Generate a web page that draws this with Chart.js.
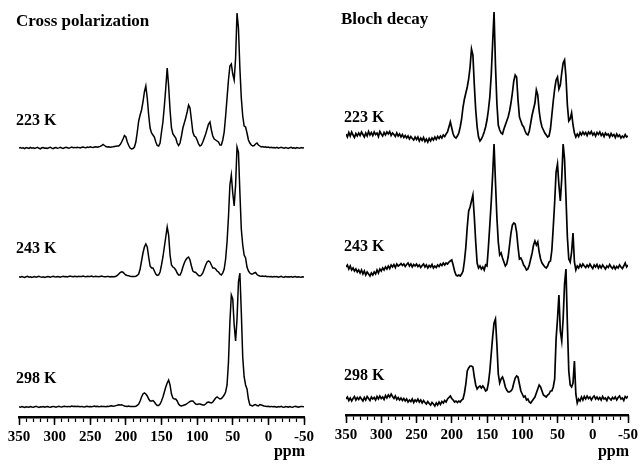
<!DOCTYPE html>
<html>
<head>
<meta charset="utf-8">
<script src="https://cdn.jsdelivr.net/npm/chart.js@4.4.1/dist/chart.umd.min.js"></script>
<style>
  body { margin: 0; background: #fff; }
  #wrap { position: relative; width: 644px; height: 468px; }
  .panel { position: absolute; top: 0; width: 322px; height: 468px; }
</style>
</head>
<body>
<div id="wrap">
  <div class="panel" style="left:0"><canvas id="cp" width="322" height="468"></canvas></div>
  <div class="panel" style="left:322px"><canvas id="bd" width="322" height="468"></canvas></div>
</div>
<script>
// chemical shift axis (ppm), shared by all six traces
const ppm = [
  350, 348, 346, 344, 342, 340, 338, 336, 334, 332,
  330, 328, 326, 324, 322, 320, 318, 316, 314, 312,
  310, 308, 306, 304, 302, 300, 298, 296, 294, 292,
  290, 288, 286, 284, 282, 280, 278, 276, 274, 272,
  270, 268, 266, 264, 262, 260, 258, 256, 254, 252,
  250, 248, 246, 244, 242, 240, 238, 236, 234, 232,
  230, 228, 226, 224, 222, 220, 218, 216, 214, 212,
  210, 208, 206, 204, 202, 200, 198, 196, 194, 192,
  190, 188, 186, 184, 182, 180, 178, 176, 174, 172,
  170, 168, 166, 164, 162, 160, 158, 156, 154, 152,
  150, 148, 146, 144, 142, 140, 138, 136, 134, 132,
  130, 128, 126, 124, 122, 120, 118, 116, 114, 112,
  110, 108, 106, 104, 102, 100, 98, 96, 94, 92,
  90, 88, 86, 84, 82, 80, 78, 76, 74, 72,
  70, 68, 66, 64, 62, 60, 58, 56, 54, 52,
  50, 48, 46, 44, 42, 40, 38, 36, 34, 32,
  30, 28, 26, 24, 22, 20, 18, 16, 14, 12,
  10, 8, 6, 4, 2, 0, -2, -4, -6, -8,
  -10, -12, -14, -16, -18, -20, -22, -24, -26, -28,
  -30, -32, -34, -36, -38, -40, -42, -44, -46, -48,
  -50
];

const temps = ['223 K', '243 K', '298 K'];
const xTicks = { min: -50, max: 350, major: 50, minor: 10 };

// Cross polarization intensities
const cp223 = [
  0, 0.5, -0.3, 0.2, -0.6, 0.4, 0, -0.4, 0.6, -0.2,
  0.3, -0.5, 0.1, 0.6, -0.3, -0.8, 0.2, 0.5, -0.2, 0,
  -0.5, 0.4, 0.8, -0.1, -0.6, 0.2, 0.5, -0.3, 0.1, 0.6,
  0, -0.4, 0.3, 0.7, 0.2, -0.3, 0.4, 0.9, 0.3, 0.6,
  0.2, 0.8, 0.4, 0.1, 0.7, 1.0, 0.5, 0.3, 0.9, 0.6,
  1.1, 0.7, 0.5, 1.0, 1.3, 0.8, 1.2, 1.6, 2.4, 3.5,
  2.5, 1.5, 1.0, 1.3, 0.8, 1.1, 1.3, 1.6, 1.8, 2.0,
  2, 3.5, 6, 9, 12.5, 11, 6, 2.5, 0, -1,
  -0.5, 1, 6, 16, 27, 33, 38, 46, 56, 62,
  50, 33, 20, 15, 13, 11, 6, 2.5, 2, 5,
  16, 26, 42, 60, 80, 62, 38, 20, 14, 12,
  10, 5, 2.5, 5, 12, 20, 25, 30, 36, 43,
  40, 28, 16, 12, 11, 8, 4, 2, 3, 6,
  10, 14, 19, 24, 26, 18, 12, 9, 8, 7,
  6, 3, 3, 8, 16, 32, 50, 68, 82, 84,
  74, 68, 90, 135, 120, 80, 50, 32, 22, 21,
  15, 8, 5, 3, 2, 2.5, 4, 5, 3, 2,
  1, 1.5, 0.8, 1.2, 0.5, 0.9, 0.3, 0.7, 0.2, 0.5,
  0.1, 0.6, -0.2, 0.4, 0.8, 0.2, -0.3, 0.5, 0.1, -0.4,
  0.3, 0.7, -0.1, 0.2, -0.5, 0.4, 0.1, -0.3, 0.5, 0,
  0.2
];
const cp243 = [
  0.3, -0.2, 0.5, 0, -0.4, 0.2, 0.6, -0.1, 0.3, -0.5,
  0.1, 0.4, -0.3, 0.2, 0.7, 0.1, -0.2, 0.3, -0.4, 0,
  0.5, 0.2, -0.3, 0.4, 0.8, 0.3, 0, 0.5, 0.2, -0.2,
  0.4, 0.7, 0.2, 0.5, 0.1, 0.6, 0.9, 0.4, 0.2, 0.7,
  0.5, 0.3, 0.8, 0.4, 0.6, 1.0, 0.5, 0.2, 0.7, 0.4,
  0.6, 0.9, 0.3, 0.5, 0.8, 0.4, 0.2, 0.6, 0.9, 0.5,
  0.3, 0.2, 0.6, 0.4, 0.1, 0.5, 0.3, 0.2, 0.8, 1.5,
  3, 4.5, 5.2, 4.8, 3.2, 2.0, 1.5, 1.2, 0.8, 0.5,
  0.5, 0.5, 0.8, 1.5, 3, 8, 16, 24, 30, 33,
  30, 20, 11, 9, 9, 6, 3, 1.5, 2, 5,
  12, 20, 30, 40, 50, 42, 22, 12, 10, 9,
  7, 4, 2, 2, 5, 10, 14, 17, 19, 20,
  17, 11, 6, 5, 4.5, 3, 1.5, 1, 2, 4,
  8, 12, 15, 16, 15, 12, 9, 9, 8, 6,
  5, 3, 2, 4, 8, 18, 35, 60, 92, 102,
  84, 71, 92, 130, 125, 85, 48, 32, 22, 19,
  10, 6, 4, 3, 3, 4, 4.5, 2.5, 1.5, 1,
  0.8, 1, 0.5, 0.9, 0.3, 0.6, 0.2, 0.5, 0.1, 0.4,
  0.2, 0.5, -0.1, 0.3, 0.6, 0, -0.2, 0.4, 0.1, 0.3,
  0, 0.4, -0.3, 0.2, 0.5, -0.1, 0.3, 0, -0.2, 0.3,
  0.1
];
const cp298 = [
  0.2, -0.3, 0.4, 0, -0.5, 0.3, 0.1, -0.2, 0.5, 0,
  -0.3, 0.2, 0.6, 0.1, -0.4, 0.3, 0, 0.5, -0.2, 0.2,
  0.4, 0, -0.3, 0.3, 0.6, 0.2, -0.1, 0.4, 0.7, 0.3,
  0.1, 0.5, 0.8, 0.4, 0.2, 0.6, 0.3, 0.9, 0.5, 0.7,
  0.4, 0.8, 0.5, 0.2, 0.6, 0.3, 0.1, 0.4, 0.7, 0.3,
  0.5, 0.2, 0.6, 0.9, 0.4, 0.7, 0.3, 0.5, 0.8, 0.4,
  0.6, 0.3, 0.8, 0.5, 0.9, 1.2, 0.7, 1.0, 1.4, 1.8,
  2.2, 1.9, 2.3, 1.6, 1.0, 0.8, 0.5, 0.9, 0.6, 0.4,
  0.5, 0.5, 0.8, 1.5, 3, 6, 10, 13, 14, 13,
  11, 8, 6, 6, 6.5, 5, 3, 1.5, 1.5, 3,
  6, 10, 15, 20, 24, 27, 22, 13, 9, 8,
  8, 6, 3, 1.5, 1, 1.5, 2, 2.5, 3.5, 4.5,
  5.5, 6, 6, 4.5, 3, 2.5, 3, 3, 2.5, 2,
  2, 3, 4.5, 5, 4.5, 4, 5, 7, 9, 10,
  9, 8, 8.5, 10, 12, 15, 22, 45, 85, 112,
  108, 82, 66, 88, 125, 134, 95, 50, 30, 22,
  18, 8, 2, 1.5, 1, 2, 2.5, 1.5, 1, 2.5,
  2, 1.5, 1, 0.8, 0.5, 0.7, 0.3, 0.6, 0.2, 0.5,
  0.3, -0.2, 0.4, 0.1, 0.6, 0, -0.3, 0.4, 0.2, -0.1,
  0.5, 0.1, -0.2, 0.4, 0.7, 0.2, -0.3, 0.3, 0.6, 0.4,
  0.3
];

// Bloch decay intensities
const bd223 = [
  1, -2, 2.5, -1, 3, 0, -2.5, 1.5, -1, 2,
  -0.5, 3, 0.5, -2, 2, -1, 3.5, 0, 2.5, -0.5,
  3, 0.5, 2, -1.5, 3.5, 1, -1, 2.5, 0, 3,
  1, 3.5, -0.5, 2, 0.5, -1.5, 2, -1, 1, -2,
  0.5, -2.5, -0.5, -3, -1, -4, -1.5, -3.5, -5, -2,
  -4.5, -2, -6, -3, -5.5, -2.5, -6.5, -4, -7, -3.5,
  -6, -3, -5, -2, -4.5, -1.5, -3.5, -1, -3, 0,
  -1.5, 1, 3, 8, 13, 7, 1, -2, -3, -1,
  2, 8, 16, 28, 36, 42, 48, 56, 68, 86,
  80, 50, 25, 8, -2, -6, -4, -1, 3, 8,
  15, 25, 38, 60, 92, 123, 70, 32, 10, 5,
  2, 1, 6, 10, 14, 18, 24, 32, 42, 54,
  60, 58, 35, 18, 14, 10, 8, 4, 1, 0,
  4, 12, 20, 26, 32, 45, 40, 24, 14, 8,
  5, 2, 0, -2, -1, 6, 20, 34, 46, 55,
  58, 46, 50, 62, 72, 75, 58, 30, 14, 16,
  22, 10, 2, -2, 1, -1.5, 2.5, 0, 3, 0.5,
  2.5, -0.5, 3, 1, 3.5, 0, 2, -1, 2.5, 0.5,
  3, -0.5, 1.5, -1.5, 2, 0, 1, -2, 1.5, -1,
  0.5, -2.5, 1, -1.5, 0, -3, -1, -2.5, 0.5, -2,
  -1
];
const bd243 = [
  0, 2, -2, 1, -3, -1, -4, -2, -5, -3,
  -6, -3, -7, -4, -8, -5, -7, -9, -6, -8,
  -5, -7, -3, -6, -2, -4, -1, -3, 0, -2,
  1, -1.5, 2, 0, 2.5, -0.5, 3, 1, 2, 3.5,
  1.5, 3, 0.5, 2.5, 4, 1, 3, 0, 2.5, 1,
  3, 0.5, 2, -0.5, 1.5, 3, 0, 2, -1, 1.5,
  0, 2.5, -1, 1, -0.5, 2, 0.5, 3, 1.5, 4,
  2, 4, 3, 5, 6, 7, 2, -4, -8, -9,
  -8, -9, -7, -4, 6, 20, 40, 56, 60, 66,
  72, 50, 25, 4, -1, 1, -2, 0, -3, 2,
  1, 20, 42, 65, 92, 123, 85, 50, 25, 12,
  14, 9, 5, 1, 3, 10, 22, 34, 42, 44,
  43, 35, 20, 8, 9, 6, 2, 0, -3, -2,
  2, 8, 14, 22, 26, 22, 25, 15, 8, 4,
  2, 0, -1, 1, 5, 6, 17, 40, 65, 95,
  103, 82, 66, 88, 123, 108, 70, 30, 8, 5,
  15, 34, 5, -3, 1, -1, 2.5, 0, 3, 1,
  -0.5, 2, 0, 3, 0.5, -1.5, 2, 0, 2.5, -1,
  1.5, -1, 2, 0, -2, 1, -0.5, 2.5, 0, -1.5,
  1, -2, 0.5, -1, 2, 0, -1.5, 1, 4, 0,
  2
];
const bd298 = [
  0, 2, -1.5, 1, -2, 0.5, 2.5, -1, 1.5, -0.5,
  2, 0, -2, 1.5, -1, 2.5, 0.5, -1.5, 2, 0,
  1.5, -1, 2.5, 0, 3, 0.5, 2, -0.5, 3.5, 1,
  4, 2, 5, 2.5, 0.5, 3, -0.5, 1.5, -1, 1,
  -1.5, 0.5, -2, 0, -3, -1, -2.5, 0, -3.5, -1,
  -2.5, 0, -3, -1, -4, -1.5, -3.5, -5, -2.5, -4.5,
  -6, -3.5, -5, -7, -4, -6, -3, -5.5, -2.5, -4,
  -1.5, -3, 0, 1.5, 3, 0.5, -1, -3, -2, -3.5,
  -2, -3, -1, 0, 6, 15, 28, 31, 33, 33,
  32, 22, 14, 10, 12, 13, 11, 13, 11, 8,
  9, 16, 28, 45, 62, 76, 80, 55, 25, 16,
  20, 22, 18, 12, 9, 7, 7, 8, 10, 16,
  21, 23, 22, 15, 8, 5, 2, 3, -1, 0,
  -3, -4, -2, 0, 2, 6, 10, 14, 12, 8,
  4, 3, 2, 4, 5, 8, 8, 12, 20, 60,
  80, 104, 68, 58, 80, 115, 130, 75, 28, 14,
  12, 16, 38, 5, -4, 0, -2, 2, -1, 2.5,
  0, 3, 0.5, 2, -1, 1.5, 3, 0, 2, -0.5,
  1.5, -1, 2.5, 0, 1, -1.5, 2, 0.5, -1, 1.5,
  0, 2, -1, 1.5, 3, 0, 1, -1.5, 2.5, 1,
  3
];

const serif = '"Liberation Serif", "DejaVu Serif", serif';

// draws panel title, temperature labels and the "ppm" unit
const panelText = {
  id: 'panelText',
  afterDraw(chart, args, o) {
    const { ctx, chartArea, scales } = chart;
    ctx.save();
    ctx.fillStyle = '#000';
    ctx.textAlign = 'left';
    ctx.textBaseline = 'alphabetic';
    ctx.font = 'bold 17px ' + serif;
    ctx.fillText(o.title, chartArea.left + o.titleDx, o.titleY);
    ctx.font = 'bold 16px ' + serif;
    temps.forEach((t, k) => {
      const y = scales.y.getPixelForValue(o.offsets[k] + o.labelRise[k]);
      ctx.fillText(t, chartArea.left + o.labelDx, y);
    });
    ctx.textAlign = 'right';
    ctx.fillText('ppm', chartArea.right + 1, o.ppmY);
    ctx.restore();
  }
};

function makePanel(id, title, series, lay) {
  const datasets = series.map((vals, k) => ({
    label: temps[k],
    data: vals.map((v, i) => ({ x: ppm[i], y: v + lay.offsets[k] })),
    borderColor: '#000',
    borderWidth: lay.lineW,
    pointRadius: 0,
    tension: 0,
    fill: false
  }));
  return new Chart(document.getElementById(id), {
    type: 'line',
    data: { datasets },
    options: {
      responsive: false,
      animation: false,
      events: [],
      layout: { padding: { left: lay.left, right: lay.right, top: 0, bottom: 0 } },
      plugins: {
        legend: { display: false },
        tooltip: { enabled: false },
        panelText: Object.assign({ title }, lay)
      },
      scales: {
        x2: {
          type: 'linear', position: 'bottom', weight: 0, reverse: true,
          min: xTicks.min, max: xTicks.max,
          ticks: { display: false, stepSize: xTicks.major },
          grid: { drawOnChartArea: false, tickLength: 8, tickWidth: 1.5, tickColor: '#000' },
          border: { display: false },
          afterFit(s) { s.height = 0; }
        },
        x: {
          type: 'linear', position: 'bottom', weight: 1, reverse: true,
          min: xTicks.min, max: xTicks.max,
          ticks: {
            stepSize: xTicks.minor, autoSkip: false, maxRotation: 0, padding: 6,
            color: '#000', font: { family: serif, size: 15, weight: 'bold' },
            callback: v => (v % xTicks.major === 0 ? String(v) : '')
          },
          grid: { drawOnChartArea: false, tickLength: 5, tickWidth: 1.2, tickColor: '#000' },
          border: { display: true, color: '#000', width: 2.5 },
          afterFit(s) { s.height = lay.axisH; }
        },
        y: { display: false, min: 0, max: lay.yMax }
      }
    },
    plugins: [panelText]
  });
}

makePanel('cp', 'Cross polarization', [cp223, cp243, cp298], {
  left: 19, right: 18, axisH: 51, yMax: 417, lineW: 1.5,
  offsets: [269, 140, 10], labelRise: [23, 24, 24],
  titleDx: -3, titleY: 26, labelDx: -3, ppmY: 456
});
makePanel('bd', 'Bloch decay', [bd223, bd243, bd298], {
  left: 24, right: 16, axisH: 53, yMax: 415, lineW: 1.7,
  offsets: [280, 148, 16], labelRise: [13, 16, 19],
  titleDx: -5, titleY: 24, labelDx: -2, ppmY: 456
});
</script>
</body>
</html>
